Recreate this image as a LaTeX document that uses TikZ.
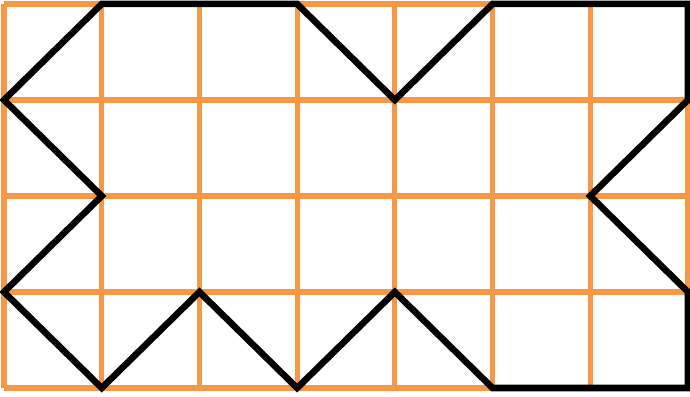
\documentclass[tikz,border=0pt]{standalone}
\usepackage{tikz}
\usetikzlibrary{calc}
\definecolor{gridorange}{RGB}{247,152,72}
\tikzset{
    gridline/.style={gridorange, line width=1.5pt},
    outline/.style={black, line width=1.9pt, line join=miter}
}
\begin{document}
\begin{tikzpicture}[x=1cm, y=0.9826cm]
            \useasboundingbox (-0.041cm,-0.082cm) rectangle (7.021cm,3.971cm);
            % orange grid
            \foreach \i in {0,...,7} {
                \draw[gridline] (\i,0) -- (\i,4);
            }
            \foreach \j in {0,...,4} {
                \draw[gridline] (0,\j) -- (7,\j);
            }
            % black outline
            \draw[outline] (1,4) -- (3,4) -- (4,3) -- (5,4) -- (7,4) -- (7,3)
                -- (6,2) -- (7,1) -- (7,0) -- (5,0) -- (4,1) -- (3,0)
                -- (2,1) -- (1,0) -- (0,1) -- (1,2) -- (0,3) -- cycle;
        \end{tikzpicture}
\end{document}
